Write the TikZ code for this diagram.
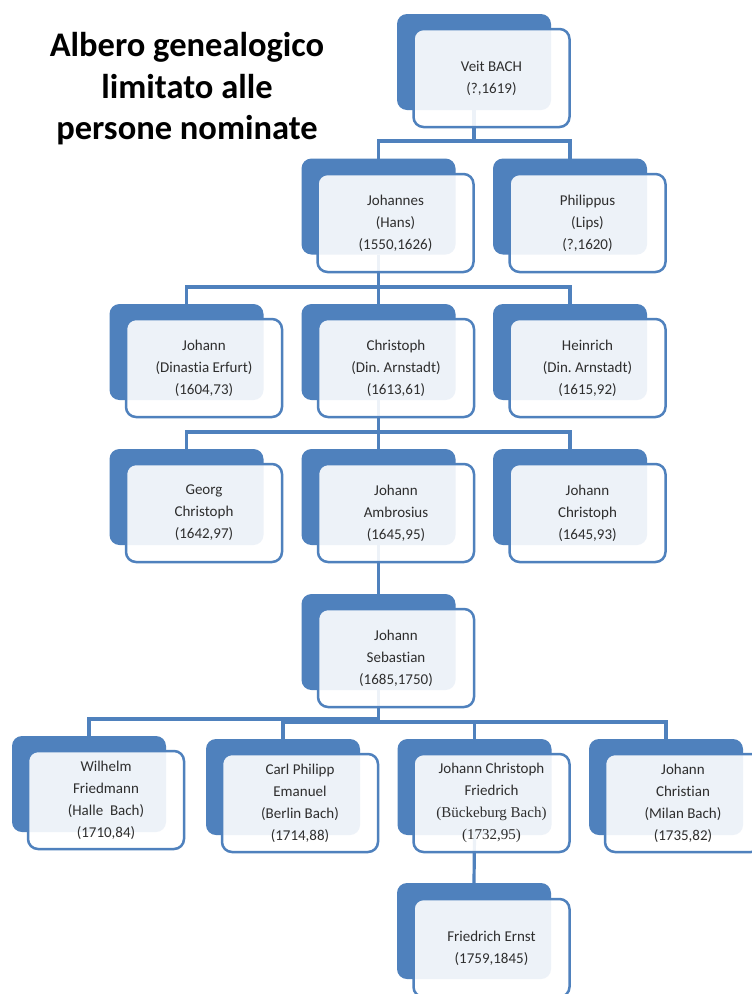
\documentclass[tikz,border=0pt]{standalone}
\usepackage{fontspec}
\setmainfont{Carlito}[Ligatures=NoCommon]
\newfontfamily\serifcam{Liberation Serif}
\definecolor{bblue}{HTML}{4F81BD}
\frenchspacing
\begin{document}
\begin{tikzpicture}[x=1pt,y=-1pt,
 backbox/.style={fill=bblue, rounded corners=10pt, minimum width=154pt, minimum height=96pt, inner sep=0pt, outer sep=0pt},
 frontbox/.style={draw=bblue, line width=2.5pt, fill=white, fill opacity=0.9, text opacity=1, rounded corners=10pt, minimum width=156pt, minimum height=98pt, inner sep=0pt, outer sep=0pt, align=center, font=\fontsize{15}{22}\selectfont, text=black!82},
 conn/.style={draw=bblue, line width=3.2pt},
 titlestyle/.style={font=\bfseries\fontsize{34.5}{41.5}\selectfont, align=center, text=black}]
\clip (0,0) rectangle (752,994);
\fill[white] (0,0) rectangle (752,994);

% title
\node[titlestyle] (title) at (187,89) {Albero genealogico\\limitato alle\\persone nominate};

% back boxes
\node[backbox] (veitB) at (474,62) {};
\node[backbox] (johB) at (378.5,206.5) {};
\node[backbox] (phiB) at (570,206.5) {};
\node[backbox] (jerB) at (186.5,352) {};
\node[backbox] (chrB) at (378.5,352) {};
\node[backbox] (heiB) at (570,352) {};
\node[backbox] (geoB) at (186.5,497) {};
\node[backbox] (ambB) at (378.5,497) {};
\node[backbox] (jchB) at (570,497) {};
\node[backbox] (jsB) at (378.5,642) {};
\node[backbox] (wfB) at (89,784) {};
\node[backbox] (cpeB) at (283,787) {};
\node[backbox] (jcfB) at (474.5,787) {};
\node[backbox] (jcB) at (666,787) {};
\node[backbox] (feB) at (474,931) {};

% connectors
\draw[conn] (veitB.south) -- (veitB.south |- 0,141) -| (johB.north);
\draw[conn] (veitB.south) -- (veitB.south |- 0,141) -| (phiB.north);
\draw[conn] (johB.south) -- (johB.south |- 0,287) -| (jerB.north);
\draw[conn] (johB.south) -- (chrB.north);
\draw[conn] (johB.south) -- (johB.south |- 0,287) -| (heiB.north);
\draw[conn] (chrB.south) -- (chrB.south |- 0,432) -| (geoB.north);
\draw[conn] (chrB.south) -- (ambB.north);
\draw[conn] (chrB.south) -- (chrB.south |- 0,432) -| (jchB.north);
\draw[conn] (ambB.south) -- (jsB.north);
\draw[conn] (jsB.south) -- (jsB.south |- 0,719) -| (wfB.north);
\draw[conn] (jsB.south) -- (jsB.south |- 0,722) -| (cpeB.north);
\draw[conn] (jsB.south) -- (jsB.south |- 0,722) -| (jcfB.north);
\draw[conn] (jsB.south) -- (jsB.south |- 0,722) -| (jcB.north);
\draw[conn] (jcfB.south) -- (feB.north);

% front boxes
\node[frontbox] (veit) at (491.5,78) {Veit BACH\\(?,1619)};
\node[frontbox] (joh) at (395.5,223) {Johannes\\(Hans)\\(1550,1626)};
\node[frontbox] (phi) at (587.5,223) {Philippus\\(Lips)\\(?,1620)};
\node[frontbox] (jer) at (204,368) {Johann\\(Dinastia Erfurt)\\(1604,73)};
\node[frontbox] (chr) at (396,368) {Christoph\\(Din. Arnstadt)\\(1613,61)};
\node[frontbox] (hei) at (587.5,368) {Heinrich\\(Din. Arnstadt)\\(1615,92)};
\node[frontbox] (geo) at (204,513) {Georg\\Christoph\\(1642,97)};
\node[frontbox] (amb) at (396,513) {Johann\\Ambrosius\\(1645,95)};
\node[frontbox] (jch) at (587.5,513) {Johann\\Christoph\\(1645,93)};
\node[frontbox] (js) at (396,658) {Johann\\Sebastian\\(1685,1750)};
\node[frontbox] (wf) at (106,800) {Wilhelm\\Friedmann\\(Halle\hspace{0.45em}Bach)\\(1710,84)};
\node[frontbox] (cpe) at (300,803) {Carl Philipp\\Emanuel\\(Berlin Bach)\\(1714,88)};
\node[frontbox] (jcf) at (491.5,803) {Johann Christoph\\Friedrich\\{\serifcam (Bückeburg Bach)}\\{\serifcam (1732,95)}};
\node[frontbox] (jc) at (683,803) {Johann\\Christian\\(Milan Bach)\\(1735,82)};
\node[frontbox] (fe) at (491.5,948) {Friedrich Ernst\\(1759,1845)};
\end{tikzpicture}
\end{document}
